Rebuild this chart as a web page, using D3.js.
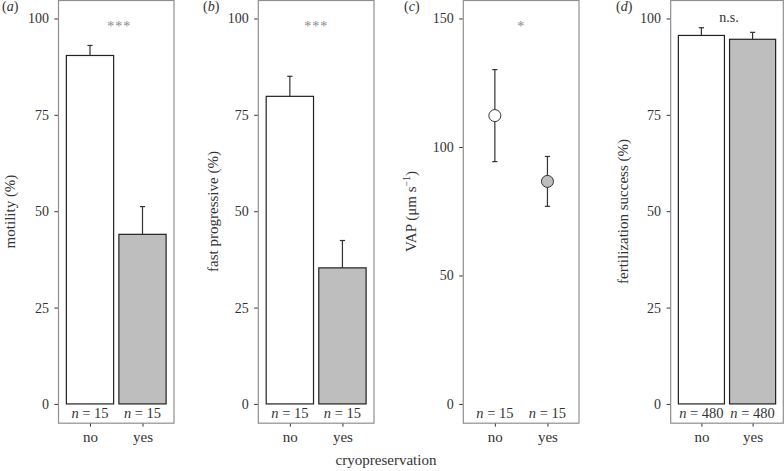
<!DOCTYPE html>
<html>
<head>
<script src="https://d3js.org/d3.v7.min.js"></script>
<style>
body { margin: 0; background: #fff; }
svg text { font-family: "Liberation Serif", "DejaVu Serif", serif; fill: #333; }
</style>
</head>
<body>
<svg id="chart" width="784" height="471"></svg>
<script>
// data
const groups = ["no", "yes"];
const motility = [90.4, 44.0];
const motilityErr = [2.6, 7.2];
const fastProg = [79.8, 35.3];
const fastProgErr = [5.2, 7.1];
const vap = [112.2, 86.6];
const vapErr = [17.9, 9.7];
const fert = [95.6, 94.6];
const fertErr = [2.0, 1.8];
const nA = [15, 15], nB = [15, 15], nC = [15, 15], nD = [480, 480];
const pctTicks = [0, 25, 50, 75, 100];
const vapTicks = [0, 50, 100, 150];
const fills = ["#ffffff", "#bebebe"];

const panels = [
  {tag: "a", x0: 58.5, x1: 174, kind: "bar", vals: motility, err: motilityErr, n: nA,
   ticks: pctTicks, dom: [-5, 105], title: "motility (%)", titleX: 14.5, sig: "***", tagX: 2},
  {tag: "b", x0: 258.3, x1: 374, kind: "bar", vals: fastProg, err: fastProgErr, n: nB,
   ticks: pctTicks, dom: [-5, 105], title: "fast progressive (%)", titleX: 218, sig: "***", tagX: 203},
  {tag: "c", x0: 463.3, x1: 579, kind: "point", vals: vap, err: vapErr, n: nC,
   ticks: vapTicks, dom: [-7.5, 157.5], title: "VAP", titleX: 416, sig: "*", tagX: 404},
  {tag: "d", x0: 670.7, x1: 783.3, kind: "bar", vals: fert, err: fertErr, n: nD,
   ticks: pctTicks, dom: [-5, 105], title: "fertilization success (%)", titleX: 628, sig: "n.s.", tagX: 616}
];

const serif = "'Liberation Serif', 'DejaVu Serif', serif";
const svg = d3.select("#chart");
const yTop = -0.8, yBottom = 423.2;

panels.forEach(p => {
  const g = svg.append("g");
  const x = d3.scaleLinear().domain([0.4, 2.6]).range([p.x0, p.x1]);
  const y = d3.scaleLinear().domain(p.dom).range([yBottom, yTop]);

  // bars or points
  if (p.kind === "bar") {
    g.selectAll("rect.bar").data(p.vals).enter().append("rect")
      .attr("x", (d, i) => x(i + 1 - 0.45))
      .attr("width", (d, i) => x(i + 1 + 0.45) - x(i + 1 - 0.45))
      .attr("y", d => y(d))
      .attr("height", d => y(0) - y(d))
      .attr("fill", (d, i) => fills[i])
      .attr("stroke", "#222").attr("stroke-width", 1.2);
    // upper whiskers only
    p.vals.forEach((v, i) => {
      const cx = x(i + 1);
      g.append("line").attr("x1", cx).attr("x2", cx)
        .attr("y1", y(v)).attr("y2", y(v + p.err[i]))
        .attr("stroke", "#333").attr("stroke-width", 1.2);
      g.append("line").attr("x1", cx - 2.6).attr("x2", cx + 2.6)
        .attr("y1", y(v + p.err[i])).attr("y2", y(v + p.err[i]))
        .attr("stroke", "#333").attr("stroke-width", 1.2);
    });
  } else {
    p.vals.forEach((v, i) => {
      const cx = x(i + 1);
      g.append("line").attr("x1", cx).attr("x2", cx)
        .attr("y1", y(v - p.err[i])).attr("y2", y(v + p.err[i]))
        .attr("stroke", "#333").attr("stroke-width", 1.2);
      [v - p.err[i], v + p.err[i]].forEach(e => {
        g.append("line").attr("x1", cx - 2.6).attr("x2", cx + 2.6)
          .attr("y1", y(e)).attr("y2", y(e))
          .attr("stroke", "#333").attr("stroke-width", 1.2);
      });
    });
    g.selectAll("circle.pt").data(p.vals).enter().append("circle")
      .attr("cx", (d, i) => x(i + 1)).attr("cy", d => y(d)).attr("r", 6)
      .attr("fill", (d, i) => fills[i]).attr("stroke", "#333").attr("stroke-width", 1);
  }

  // panel box
  g.append("rect").attr("x", p.x0).attr("y", yTop + 1.3)
    .attr("width", p.x1 - p.x0).attr("height", yBottom - yTop - 1.3)
    .attr("fill", "none").attr("stroke", "#8f8f8f").attr("stroke-width", 1.2);

  // y axis
  const yAxis = d3.axisLeft(y).tickValues(p.ticks).tickSize(3.5).tickPadding(5.5);
  const ya = g.append("g").attr("transform", `translate(${p.x0 - 0.6},0)`).call(yAxis)
    .attr("font-family", serif).attr("font-size", 14);
  ya.select(".domain").remove();
  ya.selectAll(".tick line").attr("stroke", "#333");
  ya.selectAll(".tick text").attr("fill", "#333");

  // x axis
  const xAxis = d3.axisBottom(x).tickValues([1, 2]).tickFormat((d, i) => groups[i])
    .tickSize(3).tickPadding(5);
  const xa = g.append("g").attr("transform", `translate(0,${yBottom + 0.4})`).call(xAxis)
    .attr("font-family", serif).attr("font-size", 15);
  xa.select(".domain").remove();
  xa.selectAll(".tick line").attr("stroke", "#333");
  xa.selectAll(".tick text").attr("fill", "#333");

  // n labels
  p.n.forEach((n, i) => {
    const t = g.append("text").attr("x", x(i + 1)).attr("y", 418)
      .attr("text-anchor", "middle").attr("font-size", 14.5);
    t.append("tspan").attr("font-style", "italic").text("n");
    t.append("tspan").text(" = " + n);
  });

  // significance
  if (p.sig === "n.s.") {
    g.append("text").attr("x", (p.x0 + p.x1) / 2 + 2).attr("y", 21.5)
      .attr("text-anchor", "middle").attr("font-size", 14).attr("fill", "#555").text(p.sig);
  } else {
    g.append("text").attr("x", (p.x0 + p.x1) / 2 + (p.tag === "a" ? 3 : 0)).attr("y", 31)
      .attr("text-anchor", "middle").attr("font-size", 14).style("fill", "#888")
      .attr("letter-spacing", 1).text(p.sig);
  }

  // panel tag
  const tg = g.append("text").attr("x", p.tagX).attr("y", 11).attr("font-size", 14);
  tg.append("tspan").text("(");
  tg.append("tspan").attr("font-style", "italic").text(p.tag);
  tg.append("tspan").text(")");

  // y title
  const tt = g.append("text")
    .attr("transform", `translate(${p.titleX},211.5) rotate(-90)`)
    .attr("text-anchor", "middle").attr("font-size", 15);
  if (p.tag === "c") {
    tt.append("tspan").text("VAP (\u03bcm s");
    tt.append("tspan").attr("font-size", 10).attr("dy", -6).text("\u22121");
    tt.append("tspan").attr("dy", 6).text(")");
  } else {
    tt.text(p.title);
  }
});

svg.append("text").attr("x", 386).attr("y", 465).attr("text-anchor", "middle")
  .attr("font-size", 15).text("cryopreservation");
</script>
</body>
</html>
